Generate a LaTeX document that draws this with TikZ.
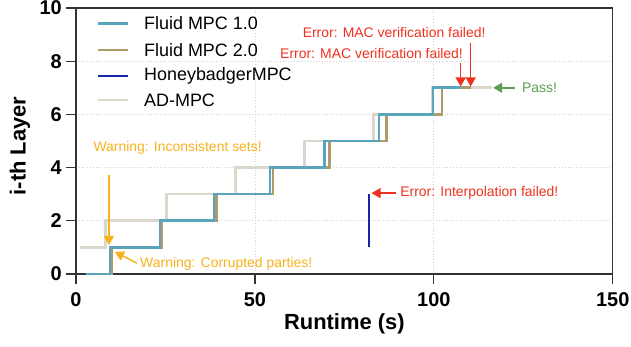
\documentclass[tikz,border=0pt]{standalone}
\usepackage{fontspec}
\setmainfont{Liberation Sans}
\usepackage{xcolor}
\usepackage{tikz}
\usetikzlibrary{arrows.meta}

\definecolor{fluidone}{RGB}{90,165,190}
\definecolor{fluidtwo}{RGB}{176,154,106}
\definecolor{hbmpc}{RGB}{21,39,168}
\definecolor{admpc}{RGB}{220,215,205}
\definecolor{errred}{RGB}{240,48,30}
\definecolor{warnorange}{RGB}{247,177,28}
\definecolor{passgreen}{RGB}{92,158,82}
\definecolor{axisgray}{RGB}{51,51,51}

\tikzset{
  curve/.style={line width=2.6bp},
  gridline/.style={gray!35, dotted, line width=0.8bp},
  axisline/.style={axisgray, line width=1.3bp},
  annot/.style={font=\fontsize{14}{16}\selectfont, inner sep=0pt},
  pointer/.style={line width=1.5bp, -{Triangle[length=9bp,width=10bp]}},
  ticklbl/.style={font=\fontsize{20}{22}\selectfont\bfseries, inner sep=0pt},
  axislbl/.style={font=\fontsize{22}{24}\selectfont\bfseries, inner sep=0pt},
  legendlbl/.style={font=\fontsize{18}{20}\selectfont, anchor=west, inner sep=0pt}
}

\begin{document}
\begin{tikzpicture}[x=3.578bp, y=26.6bp]
            \useasboundingbox (-21.24,-2.707) rectangle (155.11,10.30);

            % Grille
            \foreach \y in {2,4,6,8} \draw[gridline] (0,\y) -- (150,\y);
            \foreach \x in {50,100} \draw[gridline] (\x,0) -- (\x,10);

            % Axes
            \draw[axisline] (0,-0.376) -- (0,10) -- (150,10) -- (150,-0.376);
            \draw[axisline] (0,0) -- (150,0);
            \foreach \y in {0,2,...,10} {
              \draw[axisline] (-2.8,\y) -- (0,\y);
              \node[ticklbl, anchor=east] (ytick\y) at (-3.91,\y) {\y};
            }
            \foreach \x in {50,100} \draw[axisline] (\x,0) -- (\x,-0.376);
            \foreach \x in {0,50,100,150}
              \node[ticklbl] (xtick\x) at (\x,-0.977) {\x};
            \node[axislbl] (xlabel) at (75,-1.88) {Runtime (s)};
            \node[axislbl, rotate=90] (ylabel) at (-15.65,4.81) {i-th Layer};

            % Courbes
            \draw[curve, admpc] (1.1,1) -| (8.3,2) -| (25.3,3) -| (44.6,4) -| (63.8,5)
              -| (83.2,6) -| (99.5,7) -- (116.3,7);
            \draw[curve, fluidtwo] (2.8,0) -| (10,1) -| (24,2) -| (39.3,3) -| (55.1,4)
              -| (70.9,5) -| (86.8,6) -| (102.3,7) -- (110.5,7);
            \draw[curve, fluidone] (2.8,0) -| (9.5,1) -| (23.5,2) -| (38.6,3) -| (54.2,4)
              -| (69.4,5) -| (84.7,6) -| (99.8,7) -- (107.7,7);
            \draw[curve, hbmpc, line width=2.2bp] (81.9,1) -- (81.9,3);

            % Legende
            \draw[curve, fluidone] (6.15,9.42) -- (14.53,9.42);
            \node[legendlbl] (legone) at (19,9.42) {Fluid MPC 1.0};
            \draw[curve, fluidtwo] (6.15,8.42) -- (14.53,8.42);
            \node[legendlbl] (legtwo) at (19,8.42) {Fluid MPC 2.0};
            \draw[curve, hbmpc] (6.15,7.44) -- (14.53,7.44);
            \node[legendlbl] (leghb) at (19,7.44) {HoneybadgerMPC};
            \draw[curve, admpc] (6.15,6.54) -- (14.53,6.54);
            \node[legendlbl] (legad) at (19,6.54) {AD-MPC};

            % Annotations
            \node[annot, errred] (macup) at (88.9,9.09) {Error: MAC verification failed!};
            \node[annot, errred] (maclow) at (82.6,8.30) {Error: MAC verification failed!};
            \coordinate (macuptail) at (110.3,8.67);
            \coordinate (macuptip) at (110.3,7.05);
            \coordinate (maclowtail) at (107.5,7.92);
            \coordinate (maclowtip) at (107.5,7.05);
            \draw[pointer, errred] (macuptail) -- (macuptip);
            \draw[pointer, errred] (maclowtail) -- (maclowtip);

            \node[annot, passgreen, anchor=west] (pass) at (124.6,7) {Pass!};
            \coordinate (passtail) at (122.6,7);
            \coordinate (passtip) at (116.6,7);
            \draw[pointer, passgreen] (passtail) -- (passtip);

            \node[annot, errred, anchor=west] (interp) at (90.6,3.04) {Error: Interpolation failed!};
            \coordinate (interptail) at (89.3,3.04);
            \coordinate (interptip) at (82.6,3.04);
            \draw[pointer, errred] (interptail) -- (interptip);

            \node[annot, warnorange] (incons) at (28.4,4.74) {Warning: Inconsistent sets!};
            \coordinate (inconstail) at (9.2,3.72);
            \coordinate (inconstip) at (9.2,1.09);
            \draw[pointer, warnorange] (inconstail) -- (inconstip);

            \node[annot, warnorange, anchor=west] (corrupt) at (17.9,0.376) {Warning: Corrupted parties!};
            \coordinate (corrupttail) at (17.0,0.41);
            \coordinate (corrupttip) at (10.9,0.83);
            \draw[pointer, warnorange] (corrupttail) -- (corrupttip);
        \end{tikzpicture}
\end{document}
